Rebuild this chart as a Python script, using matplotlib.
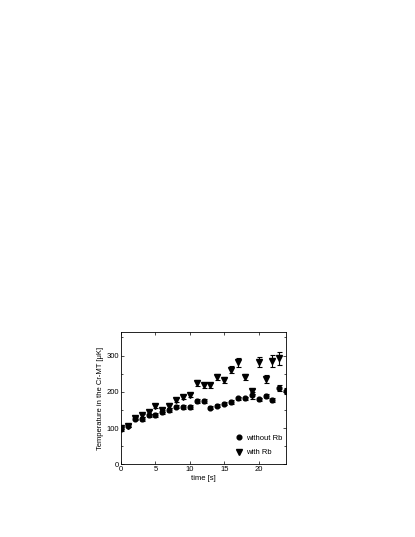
import numpy as np
import matplotlib
matplotlib.use("Agg")
import matplotlib.pyplot as plt
from matplotlib.ticker import MultipleLocator
from matplotlib.lines import Line2D

plt.rcParams['font.family'] = ['Liberation Sans', 'DejaVu Sans']

# time [s]
t_without = [0, 1, 2, 3, 4, 5, 6, 7, 8, 9, 10, 11, 12, 13, 14, 15, 16, 17, 18, 19, 20, 21, 22, 23, 24]
T_without = [97, 107, 126, 125, 135, 136, 145, 150, 159, 158, 158, 175, 175, 156, 162, 167, 172, 182, 182, 190, 179, 189, 178, 210, 202]
e_without = [5, 4, 5, 6, 5, 5, 6, 6, 5, 5, 5, 5, 5, 4, 4, 4, 5, 5, 5, 9, 5, 5, 5, 8, 8]

t_with = [0, 1, 2, 3, 4, 5, 6, 7, 8, 9, 10, 11, 12, 13, 14, 15, 16, 17, 18, 19, 20, 21, 22, 23]
T_with = [100, 107, 129, 135, 145, 161, 150, 162, 178, 186, 191, 225, 218, 218, 240, 232, 261, 281, 241, 202, 281, 236, 284, 292]
e_with = [4, 4, 4, 5, 5, 5, 5, 6, 5, 5, 5, 8, 7, 7, 8, 8, 10, 13, 9, 7, 14, 11, 17, 18]

fig = plt.figure(figsize=(4.15, 5.37), dpi=100)
ax = fig.add_axes([0.2916, 0.1354, 0.398, 0.2464])

ax.errorbar(t_without, T_without, yerr=e_without, fmt='o', color='black', ms=3.4,
            elinewidth=0.8, capsize=1.8, capthick=0.8)
ax.errorbar(t_with, T_with, yerr=e_with, fmt='v', color='black', ms=4.0,
            elinewidth=0.8, capsize=1.8, capthick=0.8)

ax.set_xlim(0, 24)
ax.set_ylim(0, 365)
ax.set_xticks([0, 5, 10, 15, 20])
ax.yaxis.set_major_locator(MultipleLocator(100))
ax.yaxis.set_minor_locator(MultipleLocator(50))
ax.tick_params(direction='in', top=True, right=True, labelsize=5.5, length=2, width=0.5, pad=1.5)
ax.tick_params(which='minor', direction='in', right=True, length=1.5, width=0.5)
for s in ax.spines.values():
    s.set_linewidth(0.6)

ax.set_xlabel('time [s]', fontsize=5.5, labelpad=1)
ax.set_ylabel('Temperature in the Cr-MT [\u03bcK]', fontsize=5.5, labelpad=2)

handles = [Line2D([], [], marker='o', ls='none', color='black', ms=3.4),
           Line2D([], [], marker='v', ls='none', color='black', ms=4.0)]
ax.legend(handles, ['without Rb', 'with Rb'], loc='lower left', bbox_to_anchor=(0.66, 0.02),
          frameon=False, fontsize=5.5, handletextpad=0.4, borderaxespad=0.3,
          labelspacing=0.9, handlelength=1.0)

fig.savefig('out.png', dpi=100)
